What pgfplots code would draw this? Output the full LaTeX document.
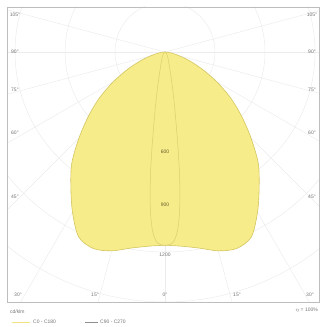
\documentclass[border=0pt]{standalone}
\usepackage{pgfplots}
\pgfplotsset{compat=1.18}
\usepackage{fontspec}
\setmainfont{Liberation Sans}

\definecolor{lumfill}{RGB}{247,236,138}
\definecolor{lumedge}{RGB}{212,198,96}
\definecolor{lumin}{RGB}{220,206,108}
\definecolor{gridc}{RGB}{236,236,236}
\definecolor{txt}{RGB}{115,115,115}
\definecolor{ltxt}{RGB}{100,92,45}

\begin{document}
\begin{tikzpicture}[font=\fontsize{5}{6}\selectfont]
\begin{axis}[
    width=322pt, height=327pt, scale only axis,
    xmin=-990, xmax=942, ymin=-1650, ymax=312,
    hide axis, clip=false,
]
\path (rel axis cs:0,0) rectangle (rel axis cs:1,1);

% grid, clipped to the frame
\begin{scope}
\clip (axis cs:-948,-1500) rectangle (axis cs:924,270);
\pgfplotsinvokeforeach{300,600,...,1800}{
  \draw[gridc, line width=0.5pt] (axis cs:0,0) circle[radius=#1];
}
\pgfplotsinvokeforeach{-105,-90,...,105}{
  \draw[gridc, line width=0.5pt] (axis cs:0,0) -- (axis cs:{3000*sin(#1)},{-3000*cos(#1)});
}
\end{scope}
\draw[gridc!80!black, line width=0.6pt] (axis cs:-948,-1500) rectangle (axis cs:924,270);

% C0 - C180
\addplot[data cs=polar, smooth, fill=lumfill, draw=lumedge, line width=0.6pt] coordinates {
  (-180,0) (-175,18) (-170,45) (-165,90) (-160,160) (-155,250) (-150,360)
  (-145,480) (-140,600) (-135,730) (-130,870) (-125,985) (-120,1110)
  (-115,1225) (-110,1255) (-105,1235) (-100,1195) (-95,1170) (-90,1160)
  (-85,1170) (-80,1195) (-75,1235) (-70,1255) (-65,1225) (-60,1110)
  (-55,985) (-50,870) (-45,730) (-40,600) (-35,480) (-30,360) (-25,250)
  (-20,160) (-15,90) (-10,45) (-5,18) (0,0)
};

% C90 - C270
\addplot[data cs=polar, smooth, draw=lumin, line width=0.5pt] coordinates {
  (-180,0) (-135,14) (-120,30) (-110,66) (-105,120) (-102,210) (-100,330)
  (-98,540) (-97,700) (-96,860) (-95,985) (-94,1075) (-93,1125) (-92,1150)
  (-90,1160)
  (-88,1150) (-87,1125) (-86,1075) (-85,985) (-84,860) (-83,700) (-82,540)
  (-80,330) (-78,210) (-75,120) (-70,66) (-60,30) (-45,14) (0,0)
};

% angle labels
\node[text=txt] at (axis cs:-900,222) {105°};
\node[text=txt] at (axis cs:-900,0) {90°};
\node[text=txt] at (axis cs:-900,-228) {75°};
\node[text=txt] at (axis cs:-900,-486) {60°};
\node[text=txt] at (axis cs:-900,-870) {45°};
\node[text=txt] at (axis cs:882,222) {105°};
\node[text=txt] at (axis cs:882,0) {90°};
\node[text=txt] at (axis cs:882,-228) {75°};
\node[text=txt] at (axis cs:882,-486) {60°};
\node[text=txt] at (axis cs:882,-870) {45°};
\node[text=txt] at (axis cs:-882,-1458) {30°};
\node[text=txt] at (axis cs:-420,-1458) {15°};
\node[text=txt] at (axis cs:0,-1458) {0°};
\node[text=txt] at (axis cs:432,-1458) {15°};
\node[text=txt] at (axis cs:870,-1458) {30°};

% intensity labels
\node[text=ltxt] at (axis cs:0,-600) {600};
\node[text=ltxt] at (axis cs:0,-915) {900};
\node[text=txt] at (axis cs:0,-1215) {1200};

% legend
\node[text=txt, anchor=west, inner sep=0pt] at (axis cs:-930,-1560) {cd/klm};
\draw[lumfill!80!lumedge, line width=0.6pt] (axis cs:-918,-1620) -- (axis cs:-810,-1620);
\node[text=txt, anchor=west, inner sep=0pt] at (axis cs:-792,-1620) {C0 - C180};
\draw[gridc!60!black, line width=0.6pt] (axis cs:-480,-1620) -- (axis cs:-402,-1620);
\node[text=txt, anchor=west, inner sep=0pt] at (axis cs:-390,-1620) {C90 - C270};
\node[text=txt, anchor=east, inner sep=0pt] at (axis cs:918,-1550) {$\eta$ = 100\%};
\end{axis}
\end{tikzpicture}
\end{document}
